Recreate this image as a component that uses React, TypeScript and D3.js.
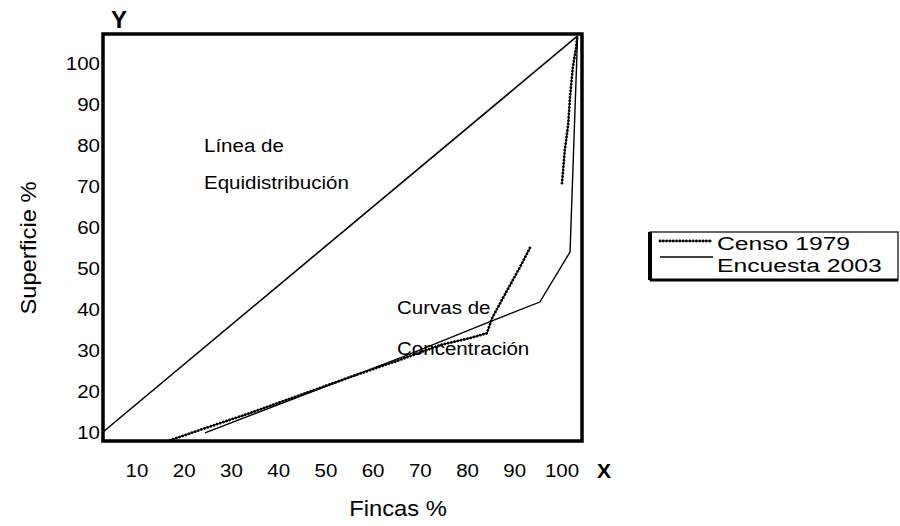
import React from "react";
import * as d3 from "d3";

// Tick labels
const xTicks = [10, 20, 30, 40, 50, 60, 70, 80, 90, 100];
const yTicks = [10, 20, 30, 40, 50, 60, 70, 80, 90, 100];

// Series (values read in the chart's own tick units)
const equidistribucion = [
  { x: 2.8, y: 10 },
  { x: 103.3, y: 106.6 },
];

const censo1979Bajo = [
  { x: 17.0, y: 8.0 },
  { x: 23.3, y: 10.5 },
  { x: 33.9, y: 14.6 },
  { x: 44.5, y: 19.0 },
  { x: 55.1, y: 23.4 },
  { x: 65.7, y: 27.6 },
  { x: 74.2, y: 31.2 },
  { x: 80.5, y: 32.9 },
  { x: 84.1, y: 34.1 },
  { x: 85.2, y: 37.8 },
  { x: 88.4, y: 44.6 },
  { x: 91.1, y: 50.2 },
  { x: 93.2, y: 54.9 },
];

const censo1979Alto = [
  { x: 100.0, y: 70.7 },
  { x: 100.6, y: 78.8 },
  { x: 101.3, y: 84.9 },
  { x: 101.7, y: 91.7 },
  { x: 102.3, y: 99.0 },
  { x: 103.0, y: 103.9 },
  { x: 103.2, y: 106.3 },
];

const encuesta2003 = [
  { x: 24.4, y: 9.8 },
  { x: 66.3, y: 28.3 },
  { x: 84.1, y: 36.6 },
  { x: 95.3, y: 41.7 },
  { x: 101.7, y: 53.9 },
  { x: 103.3, y: 106.6 },
];

const legendItems = ["Censo 1979", "Encuesta 2003"];

const FONT = "'Liberation Sans', Arial, Helvetica, sans-serif";

export default function App() {
  const W = 900;
  const H = 526;
  const frame = { left: 103, top: 34, right: 582, bottom: 441 };

  const x = d3.scaleLinear().domain([10, 100]).range([137, 562]);
  const y = d3.scaleLinear().domain([10, 100]).range([432, 63]);

  const line = d3
    .line<{ x: number; y: number }>()
    .x((d) => x(d.x))
    .y((d) => y(d.y));

  const beadCore = { fill: "none", stroke: "#222", strokeWidth: 1.1 } as const;
  const beads = {
    fill: "none",
    stroke: "#000",
    strokeWidth: 2.8,
    strokeDasharray: "0.01 3.3",
    strokeLinecap: "round",
  } as const;

  const lg = { left: 650, top: 232, right: 898, bottom: 280 };

  return (
    <svg
      width={W}
      height={H}
      viewBox={`0 0 ${W} ${H}`}
      style={{ position: "absolute", left: 0, top: 0, background: "#fff" }}
      fontFamily={FONT}
    >
      <rect x={0} y={0} width={W} height={H} fill="#fff" />

      {/* Equidistribution line */}
      <path d={line(equidistribucion) || ""} fill="none" stroke="#000" strokeWidth={1.6} />

      {/* Censo 1979 */}
      {[censo1979Bajo, censo1979Alto].map((seg, i) => (
        <g key={"c" + i}>
          <path d={line(seg) || ""} {...beadCore} />
          <path d={line(seg) || ""} {...beads} />
        </g>
      ))}

      {/* Encuesta 2003 */}
      <path d={line(encuesta2003) || ""} fill="none" stroke="#000" strokeWidth={1.4} />

      {/* Frame */}
      <rect
        x={frame.left}
        y={frame.top}
        width={frame.right - frame.left}
        height={frame.bottom - frame.top}
        fill="none"
        stroke="#000"
        strokeWidth={3.5}
      />

      {/* Y tick labels */}
      {yTicks.map((t) => (
        <text
          key={"y" + t}
          transform={`translate(100,${y(t)}) scale(1.08,1)`}
          textAnchor="end"
          dominantBaseline="central"
          fontSize={19}
          fill="#000"
        >
          {t}
        </text>
      ))}

      {/* X tick labels */}
      {xTicks.map((t) => (
        <text
          key={"x" + t}
          transform={`translate(${x(t)},470) scale(1.08,1)`}
          textAnchor="middle"
          dominantBaseline="central"
          fontSize={19}
          fill="#000"
        >
          {t}
        </text>
      ))}

      {/* Axis letters */}
      <text x={119} y={19} textAnchor="middle" dominantBaseline="central" fontSize={24} fontWeight="bold">
        Y
      </text>
      <text x={604} y={470} textAnchor="middle" dominantBaseline="central" fontSize={21} fontWeight="bold">
        X
      </text>

      {/* Axis titles */}
      <text
        transform={`translate(${398},${508}) scale(1.08,1)`}
        textAnchor="middle"
        dominantBaseline="central"
        fontSize={22}
      >
        Fincas %
      </text>
      <text
        transform={`translate(${28},${248}) rotate(-90) scale(1.08,1)`}
        textAnchor="middle"
        dominantBaseline="central"
        fontSize={22}
      >
        Superficie %
      </text>

      {/* Annotations */}
      <g fontSize={19} fill="#000">
        <text transform="translate(204,145) scale(1.08,1)" dominantBaseline="central">Línea de</text>
        <text transform="translate(204,182) scale(1.08,1)" dominantBaseline="central">Equidistribución</text>
        <text transform="translate(397,307) scale(1.08,1)" dominantBaseline="central">Curvas de</text>
        <text transform="translate(397,348) scale(1.08,1)" dominantBaseline="central">Concentración</text>
      </g>

      {/* Legend */}
      <g>
        <rect
          x={lg.left}
          y={lg.top}
          width={lg.right - lg.left}
          height={lg.bottom - lg.top}
          fill="#fff"
          stroke="#000"
          strokeWidth={1.2}
        />
        <line x1={lg.left} y1={lg.top} x2={lg.left} y2={lg.bottom} stroke="#000" strokeWidth={4} />
        <line x1={lg.left} y1={lg.bottom} x2={lg.right} y2={lg.bottom} stroke="#000" strokeWidth={3} />
        {legendItems.map((name, i) => {
          const cy = lg.top + 12 + i * 22;
          return (
            <g key={name}>
              {i === 0 ? (
                <g>
                  <line x1={660} x2={712} y1={cy - 3} y2={cy - 3} {...beadCore} />
                  <line x1={660} x2={712} y1={cy - 3} y2={cy - 3} {...beads} />
                </g>
              ) : (
                <line x1={660} x2={713} y1={cy - 9} y2={cy - 9} stroke="#000" strokeWidth={1.3} />
              )}
              <text
                transform={`translate(717,${cy}) scale(1.3,1)`}
                dominantBaseline="central"
                fontSize={19}
              >
                {name}
              </text>
            </g>
          );
        })}
      </g>
    </svg>
  );
}
